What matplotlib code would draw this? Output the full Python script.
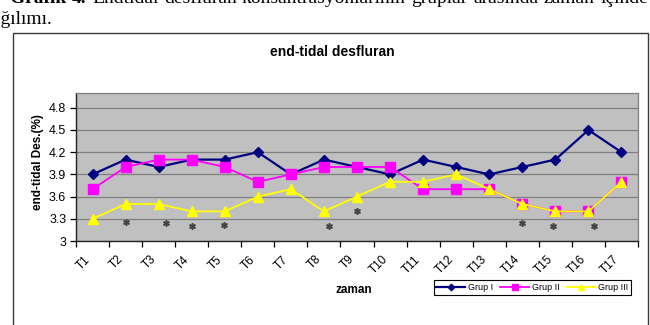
import matplotlib
matplotlib.use("Agg")
import matplotlib.pyplot as plt
from matplotlib.patches import Rectangle

# data
zaman = ["T1", "T2", "T3", "T4", "T5", "T6", "T7", "T8", "T9",
         "T10", "T11", "T12", "T13", "T14", "T15", "T16", "T17"]
grup1 = [3.9, 4.1, 4.0, 4.1, 4.1, 4.2, 3.9, 4.1, 4.0, 3.9, 4.1, 4.0, 3.9, 4.0, 4.1, 4.5, 4.2]
grup2 = [3.7, 4.0, 4.1, 4.1, 4.0, 3.8, 3.9, 4.0, 4.0, 4.0, 3.7, 3.7, 3.7, 3.5, 3.4, 3.4, 3.8]
grup3 = [3.3, 3.5, 3.5, 3.4, 3.4, 3.6, 3.7, 3.4, 3.6, 3.8, 3.8, 3.9, 3.7, 3.5, 3.4, 3.4, 3.8]
yticks = [3, 3.3, 3.6, 3.9, 4.2, 4.5, 4.8]
ytick_labels = ["3", "3.3", "3.6", "3.9", "4.2", "4.5", "4.8"]
# anlamlilik isaretleri (*)
star_x = [1.0, 2.22, 3.01, 3.98, 7.15, 8.0, 12.99, 13.93, 15.17]
star_y = [3.26, 3.25, 3.2, 3.22, 3.2, 3.41, 3.25, 3.2, 3.2]

baslik1 = ["Grafik", "4.", "Endtidal", "desfluran", "konsantrasyonlarının",
           "gruplar", "arasında", "zaman", "içinde"]

plt.rcParams["font.family"] = ["Liberation Sans", "DejaVu Sans"]

W, H = 650, 325
fig = plt.figure(figsize=(6.5, 3.25), dpi=100)

# sayfa metni (kesik, iki yana yasli)
kelimeler = []
for i, w in enumerate(baslik1):
    t = fig.text(0, 1 - 3 / H, w, fontsize=14, va="baseline", ha="left",
                 family="Liberation Serif", weight="bold" if i < 2 else "normal")
    kelimeler.append(t)
r = fig.canvas.get_renderer()
genislik = [t.get_window_extent(renderer=r).width for t in kelimeler]
sol, sag = 10, 648
bosluk = (sag - sol - sum(genislik)) / (len(kelimeler) - 1)
xpos = sol
for t, g in zip(kelimeler, genislik):
    t.set_x(xpos / W)
    xpos += g + bosluk
fig.text(-18 / W, 1 - 24 / H, "dağılımı.", fontsize=14, va="baseline",
         ha="left", family="Liberation Serif")

# grafik cercevesi
fig.patches.append(Rectangle((12.7 / W, -0.2), (647.5 - 12.7) / W, 1.2 - 33 / H,
                             transform=fig.transFigure, fill=False,
                             edgecolor="#3a3a3a", lw=1.0))

ax = fig.add_axes([76 / W, 1 - 241 / H, (638 - 76) / W, (241 - 93) / H])
ax.set_facecolor("#C0C0C0")
x = list(range(len(zaman)))

ax.plot(x, grup1, color="#000080", lw=1.6, marker="D", ms=5.5,
        mfc="#000080", mec="#000080", label="Grup I", zorder=3)
ax.plot(x, grup2, color="#FF00FF", lw=1.3, marker="s", ms=7,
        mfc="#FF00FF", mec="#FF00FF", label="Grup II", zorder=3)
ax.plot(x, grup3, color="#FFFF00", lw=1.3, marker="^", ms=7.5,
        mfc="#FFFF00", mec="#FFFF00", label="Grup III", zorder=3)
ax.plot(star_x, star_y, ls="none", marker="$*$", ms=4, color="#444444", zorder=4)

ax.set_xlim(-0.5, len(zaman) - 0.5)
ax.set_ylim(3, 5.0)
ax.set_yticks(yticks)
ax.set_yticklabels(ytick_labels, fontsize=9)
ax.yaxis.grid(True, color="#808080", lw=0.9)
ax.set_axisbelow(True)

ax.set_xticks([i - 0.5 for i in range(len(zaman) + 1)])
ax.set_xticklabels([])
ax.set_xticks(x, minor=True)
ax.set_xticklabels(zaman, minor=True, rotation=45, ha="right", va="top",
                   fontsize=8.5)
ax.tick_params(axis="x", which="major", length=4, width=0.9, direction="out")
ax.tick_params(axis="x", which="minor", length=0, pad=9)
ax.tick_params(axis="y", length=4, width=0.9, pad=3)

for s in ["top", "right"]:
    ax.spines[s].set_color("#808080")
    ax.spines[s].set_linewidth(0.9)
for s in ["left", "bottom"]:
    ax.spines[s].set_color("#222222")
    ax.spines[s].set_linewidth(1.0)

fig.text(332 / W, 1 - 52 / H, "end-tidal desfluran", fontsize=10,
         weight="bold", ha="center", va="center")
fig.text(38 / W, 1 - 162 / H, "end-tidal Des.(%)", fontsize=8.5,
         weight="bold", rotation=90, ha="center", va="center")
fig.text(354 / W, 1 - 290 / H, "zaman", fontsize=8.5, weight="bold",
         ha="center", va="center")

leg = ax.legend(loc="center", bbox_to_anchor=(532.5 / W, 1 - 287.5 / H),
                bbox_transform=fig.transFigure, ncol=3, fontsize=6.5,
                handlelength=3.2, handletextpad=0.3, columnspacing=0.8,
                borderpad=0.3, fancybox=False, framealpha=1, markerscale=0.6)
leg.get_frame().set_edgecolor("black")
leg.get_frame().set_linewidth(0.8)

fig.savefig("out.png", dpi=100)
